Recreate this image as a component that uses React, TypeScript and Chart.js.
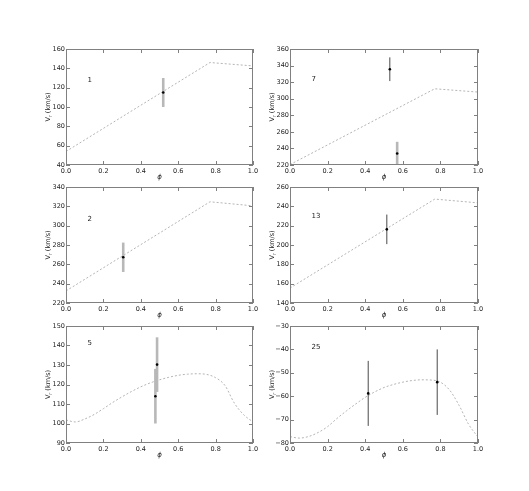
import React, { useEffect, useRef } from 'react';
import { Chart, registerables } from 'chart.js';

Chart.register(...registerables);

// ---------- data ----------
const panelLabels = ['1', '7', '2', '13', '5', '25'];
const yMins = [40, 220, 220, 140, 90, -80];
const yMaxs = [160, 360, 340, 260, 150, -30];
const ySteps = [20, 20, 20, 20, 10, 10];
const xTicksStep = 0.2;
const labelPhi = [0.115, 0.115, 0.115, 0.115, 0.115, 0.115];
const labelV = [128, 323, 306.5, 230, 141, -38.9];

// model curves
const p1CurvePhi = [0, 0.77, 1.0];
const p1CurveV = [54, 146, 142.5];
const p7CurvePhi = [0, 0.77, 1.0];
const p7CurveV = [220.5, 312, 308];
const p2CurvePhi = [0, 0.77, 1.0];
const p2CurveV = [232.5, 324.7, 320.5];
const p13CurvePhi = [0, 0.77, 1.0];
const p13CurveV = [155.5, 247.5, 243.6];
const p5CurvePhi = [0, 0.05, 0.1, 0.15, 0.2, 0.25, 0.3, 0.35, 0.4, 0.45, 0.5, 0.55, 0.6, 0.65, 0.7, 0.75, 0.8, 0.85, 0.9, 0.95, 1.0];
const p5CurveV = [101.8, 100.8, 102.3, 104.6, 107.6, 110.8, 113.7, 116.4, 118.8, 120.8, 122.4, 123.7, 124.7, 125.3, 125.5, 125.2, 123.5, 119.5, 110.5, 104.5, 100.8];
const p25CurvePhi = [0, 0.05, 0.1, 0.15, 0.2, 0.25, 0.3, 0.35, 0.4, 0.45, 0.5, 0.55, 0.6, 0.65, 0.7, 0.75, 0.8, 0.85, 0.9, 0.95, 1.0];
const p25CurveV = [-77.3, -77.9, -77.2, -75.5, -73, -69.5, -66.3, -63.3, -60.5, -58.2, -56.3, -55, -54, -53.3, -53, -53.1, -54, -57.5, -64, -72, -77.5];
const curveSmooth = [false, false, false, false, true, true];

// observations
const p1ObsPhi = [0.52];
const p1ObsV = [115];
const p1ObsErr = [15];
const p1ObsKind = ['grey'];
const p7ObsPhi = [0.531, 0.57];
const p7ObsV = [335.6, 233.8];
const p7ObsErr = [14.3, 14.2];
const p7ObsKind = ['black', 'grey'];
const p2ObsPhi = [0.306];
const p2ObsV = [267.3];
const p2ObsErr = [15.2];
const p2ObsKind = ['grey'];
const p13ObsPhi = [0.515];
const p13ObsV = [216.2];
const p13ObsErr = [15.3];
const p13ObsKind = ['black'];
const p5ObsPhi = [0.478, 0.487];
const p5ObsV = [114, 130.2];
const p5ObsErr = [14, 14];
const p5ObsKind = ['grey', 'grey'];
const p25ObsPhi = [0.416, 0.783];
const p25ObsV = [-58.8, -54];
const p25ObsErr = [13.9, 14];
const p25ObsKind = ['black', 'black'];

const curvesPhi = [p1CurvePhi, p7CurvePhi, p2CurvePhi, p13CurvePhi, p5CurvePhi, p25CurvePhi];
const curvesV = [p1CurveV, p7CurveV, p2CurveV, p13CurveV, p5CurveV, p25CurveV];
const obsPhi = [p1ObsPhi, p7ObsPhi, p2ObsPhi, p13ObsPhi, p5ObsPhi, p25ObsPhi];
const obsV = [p1ObsV, p7ObsV, p2ObsV, p13ObsV, p5ObsV, p25ObsV];
const obsErr = [p1ObsErr, p7ObsErr, p2ObsErr, p13ObsErr, p5ObsErr, p25ObsErr];
const obsKind = [p1ObsKind, p7ObsKind, p2ObsKind, p13ObsKind, p5ObsKind, p25ObsKind];

// ---------- layout / style ----------
const colLeft = [66, 290];
const colRight = [252, 477];
const rowTop = [49, 187, 326];
const rowBottom = [164, 302, 442];
const Y_AXIS_W = 40;
const PAD_T = 8;
const PAD_R = 12;
const X_AXIS_H = 24;
const FONT = '"DejaVu Sans", sans-serif';
const TEXT = '#222222';
const FRAME = '#808080';
const CURVE = '#b4b4b4';
const GREY_BAR = '#b8b8b8';
const BLACK_BAR = '#4a4a4a';

const decorPlugin = {
  id: 'decor',
  afterDraw(chart: any) {
    const o = chart.options.plugins.decor;
    const { ctx, chartArea: a } = chart;
    const xs = chart.scales.x;
    const ys = chart.scales.y;
    ctx.save();
    ctx.strokeStyle = FRAME;
    ctx.lineWidth = 1;
    ctx.beginPath();
    for (const t of xs.ticks) {
      const px = Math.round(xs.getPixelForValue(t.value)) + 0.5;
      ctx.moveTo(px, a.bottom);
      ctx.lineTo(px, a.bottom - 4);
      ctx.moveTo(px, a.top);
      ctx.lineTo(px, a.top + 4);
    }
    for (const t of ys.ticks) {
      const py = Math.round(ys.getPixelForValue(t.value)) + 0.5;
      ctx.moveTo(a.left, py);
      ctx.lineTo(a.left + 4, py);
      ctx.moveTo(a.right, py);
      ctx.lineTo(a.right - 4, py);
    }
    ctx.stroke();
    ctx.strokeRect(a.left + 0.5, a.top + 0.5, a.right - a.left - 1, a.bottom - a.top - 1);

    ctx.fillStyle = TEXT;
    ctx.font = `7px ${FONT}`;
    ctx.textAlign = 'left';
    ctx.textBaseline = 'middle';
    ctx.fillText(o.label, xs.getPixelForValue(o.lx), ys.getPixelForValue(o.ly));

    ctx.font = `italic 7px ${FONT}`;
    ctx.textAlign = 'center';
    ctx.fillText('ϕ', (a.left + a.right) / 2, a.bottom + 12);

    ctx.translate(a.left - 18, (a.top + a.bottom) / 2);
    ctx.rotate(-Math.PI / 2);
    ctx.textAlign = 'left';
    ctx.textBaseline = 'alphabetic';
    const big = `6.5px ${FONT}`;
    const small = `4.8px ${FONT}`;
    ctx.font = big;
    const wV = ctx.measureText('V').width;
    const wRest = ctx.measureText(' (km/s)').width;
    ctx.font = small;
    const wr = ctx.measureText('r').width;
    const total = wV + wr + wRest;
    let x = -total / 2;
    const base = 2.3;
    ctx.font = big;
    ctx.fillText('V', x, base);
    x += wV;
    ctx.font = small;
    ctx.fillText('r', x, base + 1.6);
    x += wr;
    ctx.font = big;
    ctx.fillText(' (km/s)', x, base);
    ctx.restore();
  },
};

function Panel({ idx }: { idx: number }) {
  const ref = useRef<HTMLCanvasElement>(null);
  const col = idx % 2;
  const row = Math.floor(idx / 2);
  const plotW = colRight[col] - colLeft[col] + 1;
  const plotH = rowBottom[row] - rowTop[row] + 1;
  const left = colLeft[col] - Y_AXIS_W;
  const top = rowTop[row] - PAD_T;
  const width = plotW + Y_AXIS_W + PAD_R;
  const height = plotH + PAD_T + X_AXIS_H;

  useEffect(() => {
    if (!ref.current) return;
    const datasets: any[] = [];
    const curve: any = {
      data: curvesPhi[idx].map((p, i) => ({ x: p, y: curvesV[idx][i] })),
      showLine: true,
      borderColor: CURVE,
      borderWidth: 1,
      borderDash: [2, 2],
      pointRadius: 0,
      tension: 0,
      order: 3,
    };
    if (curveSmooth[idx]) {
      curve.cubicInterpolationMode = 'monotone';
      curve.tension = 0.4;
    }
    datasets.push(curve);
    obsPhi[idx].forEach((p, i) => {
      const v = obsV[idx][i];
      const e = obsErr[idx][i];
      const grey = obsKind[idx][i] === 'grey';
      datasets.push({
        data: [
          { x: p, y: v - e },
          { x: p, y: v + e },
        ],
        showLine: true,
        borderColor: grey ? GREY_BAR : BLACK_BAR,
        borderWidth: grey ? 2.6 : 1,
        pointRadius: 0,
        order: 2,
      });
    });
    datasets.push({
      data: obsPhi[idx].map((p, i) => ({ x: p, y: obsV[idx][i] })),
      showLine: false,
      pointRadius: 1.3,
      pointBackgroundColor: '#000000',
      pointBorderColor: '#000000',
      pointBorderWidth: 0,
      order: 1,
    });

    const tickFont = { family: FONT, size: 6.5 };
    const chart = new Chart(ref.current, {
      type: 'scatter',
      data: { datasets },
      plugins: [decorPlugin],
      options: {
        animation: false,
        responsive: false,
        devicePixelRatio: 1,
        layout: { padding: { top: PAD_T, right: PAD_R, left: 0, bottom: 0 } },
        plugins: {
          legend: { display: false },
          tooltip: { enabled: false },
          decor: { label: panelLabels[idx], lx: labelPhi[idx], ly: labelV[idx] },
        } as any,
        scales: {
          x: {
            type: 'linear',
            min: 0,
            max: 1,
            afterFit: (s: any) => {
              s.height = X_AXIS_H;
            },
            grid: { display: false, drawTicks: false },
            border: { display: false },
            ticks: {
              stepSize: xTicksStep,
              autoSkip: false,
              maxRotation: 0,
              padding: 2,
              color: TEXT,
              font: tickFont,
              callback: (v: any) => Number(v).toFixed(1),
            },
          },
          y: {
            type: 'linear',
            min: yMins[idx],
            max: yMaxs[idx],
            afterFit: (s: any) => {
              s.width = Y_AXIS_W;
            },
            grid: { display: false, drawTicks: false },
            border: { display: false },
            ticks: {
              stepSize: ySteps[idx],
              autoSkip: false,
              padding: 1,
              color: TEXT,
              font: tickFont,
              callback: (v: any) => String(Math.round(Number(v))).replace('-', '\u2212'),
            },
          },
        },
      } as any,
    });
    return () => chart.destroy();
  }, [idx]);

  return (
    <canvas
      ref={ref}
      width={width}
      height={height}
      style={{ position: 'absolute', left, top, width, height }}
    />
  );
}

export default function App() {
  return (
    <div
      style={{
        position: 'fixed',
        left: 0,
        top: 0,
        width: 529,
        height: 491,
        background: '#ffffff',
        overflow: 'hidden',
      }}
    >
      {[0, 1, 2, 3, 4, 5].map((i) => (
        <Panel key={i} idx={i} />
      ))}
    </div>
  );
}
